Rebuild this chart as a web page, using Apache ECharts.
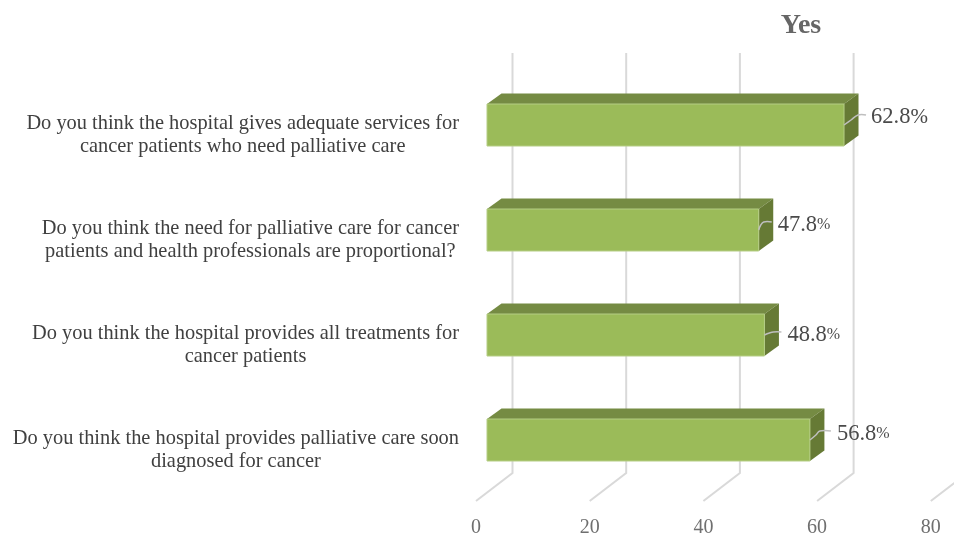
<!DOCTYPE html>
<html><head><meta charset="utf-8">
<script src="https://cdn.jsdelivr.net/npm/echarts@6/dist/echarts.min.js"></script>
<style>html,body{margin:0;padding:0;background:#fff}#c{width:954px;height:533px}</style>
</head><body><div id="c"></div>
<script>
const titleText = 'Yes';
const categories = [
  ['Do you think the hospital gives adequate services for','cancer patients who need palliative care'],
  ['Do you think the need for palliative care for cancer','patients and health professionals are proportional?'],
  ['Do you think the hospital provides all treatments for','cancer patients'],
  ['Do you think the hospital provides palliative care soon','diagnosed for cancer']
];
const values = [62.8, 47.8, 48.8, 56.8];
const tickValues = [0, 20, 40, 60, 80];

// styling
const SERIF = '"Liberation Serif","Times New Roman",serif';
const pxPerUnit = 5.685;
const depth = {x: 36.5, y: -28};       // plot floor depth
const barShift = {x: 11, y: -8.5};     // bar front-face shift into the depth
const barDepth = {x: 14.5, y: -10.5};  // bar extrusion
const leader = [                        // leader shape / label start, relative to bar end & centre
  {pts: [[0,0],[7,-5],[14,-10],[22,-10]], lx: 27, ly: -8, pct: 21},
  {pts: [[0,0],[2,-5],[5,-8],[13,-8]], lx: 19, ly: -5, pct: 16},
  {pts: [[0,0],[5,-2],[9,-3],[17,-3]], lx: 23, ly: 0, pct: 16},
  {pts: [[0,0],[6,-5],[10,-9],[21,-9]], lx: 27, ly: -6, pct: 16}
];

const chart = echarts.init(document.getElementById('c'), null, {renderer: 'canvas'});

function renderGrid(params, api) {
  const v = api.value(0);
  const p = api.coord([v, 0]);
  const cs = params.coordSys;
  const x = p[0], bottom = cs.y + cs.height, top = cs.y;
  const style = {stroke: '#d9d9d9', lineWidth: 2, fill: null};
  return {type: 'group', silent: true, children: [
    {type: 'polyline', shape: {points: [[x, bottom], [x + depth.x, bottom + depth.y], [x + depth.x, top + depth.y]]}, style}
  ]};
}

function renderBar(params, api) {
  const i = api.value(1);
  const val = api.value(0);
  const start = api.coord([0, i]);
  const end = api.coord([val, i]);
  const h = api.size([0, 1])[1] * 0.4;
  const x0 = start[0] + barShift.x, x1 = end[0] + barShift.x;
  const cy = start[1] + barShift.y;
  const y0 = cy - h / 2, y1 = cy + h / 2;
  const dx = barDepth.x, dy = barDepth.y;
  const l = leader[i];
  return {type: 'group', silent: true, children: [
    {type: 'polygon', shape: {points: [[x0, y0], [x1, y0], [x1 + dx, y0 + dy], [x0 + dx, y0 + dy]]}, style: {fill: '#758b43'}},
    {type: 'polygon', shape: {points: [[x1, y0], [x1 + dx, y0 + dy], [x1 + dx, y1 + dy], [x1, y1]]}, style: {fill: '#667a35'}},
    {type: 'rect', shape: {x: x0, y: y0, width: x1 - x0, height: h}, style: {fill: '#9bbb59', stroke: '#b5cd85', lineWidth: 1}},
    {type: 'polyline', shape: {points: l.pts.map(q => [x1 + q[0], cy + q[1]]), smooth: 0.4}, style: {stroke: '#bfbfbf', lineWidth: 1.5, fill: null}},
    {type: 'text', x: x1 + l.lx, y: cy + l.ly, style: {
      text: '{n|' + val.toFixed(1) + '}{p|%}',
      verticalAlign: 'middle', align: 'left',
      rich: {
        n: {fontFamily: SERIF, fontSize: 22.5, fill: '#4a4a4a'},
        p: {fontFamily: SERIF, fontSize: l.pct, fill: '#4a4a4a'}
      }
    }}
  ]};
}

chart.setOption({
  animation: false,
  backgroundColor: '#ffffff',
  title: {
    text: titleText, left: 796, top: 7, textAlign: 'center',
    textStyle: {fontFamily: SERIF, fontSize: 28, fontWeight: 'bold', color: '#666666'}
  },
  grid: {left: 476, top: 81, width: 80 * pxPerUnit, height: 420, containLabel: false, outerBoundsMode: 'none'},
  xAxis: {
    type: 'value', min: 0, max: 80, interval: 20,
    axisLine: {show: false}, axisTick: {show: false}, splitLine: {show: false},
    axisLabel: {margin: 17, fontFamily: SERIF, fontSize: 20, color: '#6f6f6f'}
  },
  yAxis: {
    type: 'category', inverse: true,
    data: categories.map(c => c.join('\n')),
    axisLine: {show: false}, axisTick: {show: false},
    axisLabel: {
      margin: 17, align: 'right', lineHeight: 23, padding: [4, 0, 0, 0],
      fontFamily: SERIF, fontSize: 20.4, color: '#404040',
      formatter: v => v.split('\n').map(s => '{c|' + s + '}').join('\n'),
      rich: {c: {align: 'center', fontFamily: SERIF, fontSize: 20.4, color: '#404040', lineHeight: 23}}
    }
  },
  series: [
    {type: 'custom', z: 1, renderItem: renderGrid, clip: false, encode: {x: 0}, data: tickValues.map(v => [v])},
    {type: 'custom', z: 2, renderItem: renderBar, clip: false, encode: {x: 0, y: 1}, data: values.map((v, i) => [v, i])}
  ]
});
</script></body></html>
